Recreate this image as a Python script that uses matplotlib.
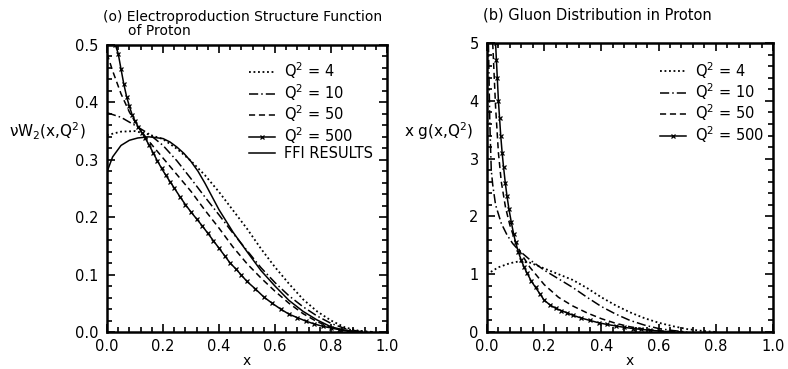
import matplotlib
matplotlib.use("Agg")
import matplotlib.pyplot as plt
from matplotlib.ticker import MultipleLocator

# (a) electroproduction structure function nu W2(x, Q^2)
xa_q4 = [0, 0.05, 0.1, 0.15, 0.2, 0.25, 0.3, 0.35, 0.4, 0.45, 0.5, 0.55, 0.6, 0.65, 0.7, 0.75, 0.8, 0.85, 0.9, 0.95]
ya_q4 = [0.343, 0.349, 0.350, 0.344, 0.336, 0.319, 0.298, 0.273, 0.244, 0.212, 0.180, 0.145, 0.113, 0.084, 0.057, 0.036, 0.020, 0.008, 0.002, 0.0]

xa_q10 = [0, 0.05, 0.1, 0.15, 0.2, 0.25, 0.3, 0.35, 0.4, 0.45, 0.5, 0.55, 0.6, 0.65, 0.7, 0.75, 0.8, 0.85, 0.9, 0.95]
ya_q10 = [0.382, 0.374, 0.360, 0.345, 0.325, 0.298, 0.267, 0.235, 0.204, 0.172, 0.142, 0.112, 0.086, 0.063, 0.044, 0.028, 0.015, 0.006, 0.001, 0.0]

xa_q50 = [0, 0.02, 0.05, 0.08, 0.11, 0.15, 0.2, 0.25, 0.3, 0.35, 0.4, 0.45, 0.5, 0.55, 0.6, 0.65, 0.7, 0.75, 0.8, 0.85, 0.9]
ya_q50 = [0.485, 0.455, 0.415, 0.383, 0.358, 0.332, 0.303, 0.274, 0.245, 0.212, 0.181, 0.148, 0.119, 0.094, 0.071, 0.050, 0.032, 0.018, 0.008, 0.002, 0.0]

xa_q500 = [0.03, 0.04, 0.05, 0.06, 0.07, 0.08, 0.09, 0.1, 0.112, 0.125, 0.136, 0.15, 0.165, 0.18, 0.195, 0.21, 0.225,
           0.24, 0.26, 0.28, 0.3, 0.32, 0.34, 0.36, 0.38, 0.4, 0.42, 0.44, 0.46, 0.48, 0.5, 0.53, 0.56, 0.59, 0.62,
           0.65, 0.68, 0.71, 0.74, 0.77, 0.8, 0.83, 0.86, 0.9]
ya_q500 = [0.50, 0.485, 0.458, 0.432, 0.41, 0.393, 0.378, 0.368, 0.357, 0.347, 0.338, 0.326, 0.312, 0.298, 0.285,
           0.273, 0.262, 0.251, 0.236, 0.222, 0.209, 0.197, 0.185, 0.172, 0.159, 0.146, 0.133, 0.120, 0.110, 0.099,
           0.088, 0.075, 0.061, 0.050, 0.040, 0.031, 0.025, 0.019, 0.014, 0.010, 0.007, 0.004, 0.002, 0.0]

xa_ffi = [0, 0.02, 0.05, 0.08, 0.11, 0.15, 0.2, 0.225, 0.25, 0.275, 0.3, 0.325, 0.35, 0.375, 0.4, 0.45, 0.5, 0.55, 0.6,
          0.65, 0.7, 0.75, 0.8, 0.85, 0.9]
ya_ffi = [0.279, 0.305, 0.325, 0.334, 0.338, 0.340, 0.337, 0.331, 0.322, 0.311, 0.297, 0.280, 0.259, 0.236, 0.213,
          0.174, 0.140, 0.107, 0.080, 0.055, 0.036, 0.021, 0.009, 0.003, 0.0]

# (b) gluon distribution x g(x, Q^2)
xb_q4 = [0, 0.04, 0.08, 0.11, 0.15, 0.2, 0.25, 0.3, 0.35, 0.4, 0.45, 0.5, 0.55, 0.6, 0.65, 0.7, 0.75, 0.8]
yb_q4 = [1.0, 1.12, 1.19, 1.22, 1.2, 1.1, 1.0, 0.9, 0.76, 0.6, 0.46, 0.34, 0.24, 0.16, 0.1, 0.05, 0.02, 0.0]

xb_q10 = [0.005, 0.01, 0.015, 0.02, 0.03, 0.05, 0.07, 0.09, 0.11, 0.15, 0.2, 0.25, 0.3, 0.35, 0.4, 0.45, 0.5, 0.55, 0.6, 0.65, 0.7]
yb_q10 = [5.0, 3.6, 2.8, 2.55, 2.2, 1.88, 1.68, 1.53, 1.42, 1.25, 1.07, 0.92, 0.77, 0.6, 0.44, 0.31, 0.2, 0.12, 0.06, 0.025, 0.0]

xb_q50 = [0.02, 0.03, 0.04, 0.05, 0.065, 0.08, 0.1, 0.12, 0.15, 0.2, 0.25, 0.3, 0.35, 0.4, 0.45, 0.5, 0.55, 0.6, 0.65, 0.7]
yb_q50 = [5.0, 3.9, 3.1, 2.6, 2.15, 1.85, 1.55, 1.35, 1.12, 0.82, 0.6, 0.45, 0.33, 0.23, 0.15, 0.09, 0.05, 0.02, 0.005, 0.0]

xb_q500 = [0.03, 0.033, 0.036, 0.04, 0.044, 0.048, 0.053, 0.058, 0.064, 0.07, 0.077, 0.085, 0.093, 0.1, 0.11, 0.12,
           0.13, 0.14, 0.155, 0.17, 0.185, 0.2, 0.22, 0.24, 0.26, 0.28, 0.3, 0.33, 0.36, 0.39, 0.42, 0.45, 0.48,
           0.51, 0.54, 0.57, 0.6, 0.65]
yb_q500 = [5.0, 4.7, 4.4, 4.0, 3.7, 3.4, 3.1, 2.85, 2.58, 2.35, 2.12, 1.9, 1.7, 1.55, 1.38, 1.24,
           1.12, 1.02, 0.88, 0.77, 0.66, 0.55, 0.47, 0.41, 0.37, 0.33, 0.29, 0.24, 0.2, 0.16, 0.13, 0.105, 0.08,
           0.06, 0.045, 0.03, 0.018, 0.0]

labels_q = ["Q$^2$ = 4", "Q$^2$ = 10", "Q$^2$ = 50", "Q$^2$ = 500"]

plt.rcParams["font.family"] = "DejaVu Sans"
plt.rcParams["mathtext.default"] = "regular"

fig = plt.figure(figsize=(7.88, 3.69), dpi=100)
ax1 = fig.add_axes([0.1358, 0.1003, 0.3553, 0.7778])
ax2 = fig.add_axes([0.618, 0.1003, 0.363, 0.783])

lw = 1.1
sty_dot = dict(color="black", lw=1.3, linestyle=(0, (1, 1.5)))
sty_dd = dict(color="black", lw=lw, linestyle=(0, (6, 2, 1, 2)))
sty_dash = dict(color="black", lw=lw, linestyle=(0, (4, 2.5)))
sty_x = dict(color="black", lw=lw, marker="x", markersize=3.5, markeredgewidth=0.9)

ax1.plot(xa_q4, ya_q4, label=labels_q[0], **sty_dot)
ax1.plot(xa_q10, ya_q10, label=labels_q[1], **sty_dd)
ax1.plot(xa_q50, ya_q50, label=labels_q[2], **sty_dash)
ax1.plot(xa_q500, ya_q500, label=labels_q[3], **sty_x)
ax1.plot(xa_ffi, ya_ffi, label="FFI RESULTS", color="black", lw=lw)

ax2.plot(xb_q4, yb_q4, label=labels_q[0], **sty_dot)
ax2.plot(xb_q10, yb_q10, label=labels_q[1], **sty_dd)
ax2.plot(xb_q50, yb_q50, label=labels_q[2], **sty_dash)
ax2.plot(xb_q500, yb_q500, label=labels_q[3], **sty_x)

ax1.set_xlim(0, 1)
ax1.set_ylim(0, 0.5)
ax1.xaxis.set_major_locator(MultipleLocator(0.2))
ax1.xaxis.set_minor_locator(MultipleLocator(0.04))
ax1.yaxis.set_major_locator(MultipleLocator(0.1))
ax1.yaxis.set_minor_locator(MultipleLocator(0.02))

ax2.set_xlim(0, 1)
ax2.set_ylim(0, 5)
ax2.xaxis.set_major_locator(MultipleLocator(0.2))
ax2.xaxis.set_minor_locator(MultipleLocator(0.04))
ax2.yaxis.set_major_locator(MultipleLocator(1))
ax2.yaxis.set_minor_locator(MultipleLocator(0.2))

for ax in (ax1, ax2):
    for s in ax.spines.values():
        s.set_linewidth(1.8)
    ax.tick_params(which="both", direction="in", top=True, right=True, labelsize=10.5, width=1.2)
    ax.tick_params(which="major", length=6)
    ax.tick_params(which="minor", length=3.5)
    ax.tick_params(axis="x", which="major", pad=5)
    ax.tick_params(axis="y", which="major", pad=6)
    ax.set_xlabel("x", fontsize=10)
    ax.xaxis.set_label_coords(0.5, -0.075)

leg_kw = dict(frameon=False, fontsize=10.5, handlelength=1.8, handletextpad=0.6,
              labelspacing=0.05, borderpad=0, borderaxespad=0)
ax1.legend(loc="upper left", bbox_to_anchor=(0.507, 0.945), **leg_kw)
ax2.legend(loc="upper left", bbox_to_anchor=(0.605, 0.942), **leg_kw)

ax1.xaxis.set_major_formatter(plt.FuncFormatter(lambda v, p: f"{v:.1f}"))
ax1.yaxis.set_major_formatter(plt.FuncFormatter(lambda v, p: f"{v:.1f}"))
ax2.xaxis.set_major_formatter(plt.FuncFormatter(lambda v, p: f"{v:.1f}"))

fig.text(0.012, 0.645, r"$\nu$W$_2$(x,Q$^2$)", fontsize=11, ha="left", va="center")
fig.text(0.513, 0.645, "x g(x,Q$^2$)", fontsize=11, ha="left", va="center")

fig.text(103 / 788, 1 - 17 / 369, "(o) Electroproduction Structure Function", fontsize=10, ha="left", va="center")
fig.text(128 / 788, 1 - 31 / 369, "of Proton", fontsize=10, ha="left", va="center")
fig.text(483 / 788, 1 - 15 / 369, "(b) Gluon Distribution in Proton", fontsize=10.5, ha="left", va="center")

fig.savefig("out.png", dpi=100)
